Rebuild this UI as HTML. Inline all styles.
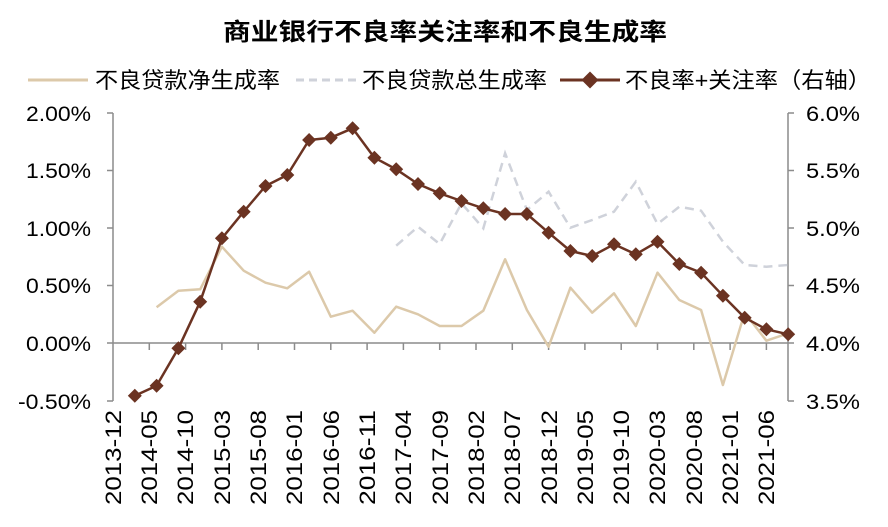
<!DOCTYPE html>
<html><head><meta charset="utf-8"><style>
html,body{margin:0;padding:0;background:#fff;}
svg text{font-family:"Liberation Sans","Noto Sans CJK SC",sans-serif;fill:#000;}
</style></head><body>
<svg width="888" height="522" viewBox="0 0 888 522" xmlns="http://www.w3.org/2000/svg">
<text x="223" y="40" font-size="24" font-weight="bold" textLength="444" lengthAdjust="spacingAndGlyphs">商业银行不良率关注率和不良生成率</text>
<line x1="28" y1="80" x2="88" y2="80" stroke="#dcc9aa" stroke-width="3"/>
<text x="95" y="88" font-size="22" textLength="185" lengthAdjust="spacingAndGlyphs">不良贷款净生成率</text>
<line x1="296" y1="80" x2="356" y2="80" stroke="#cfd2da" stroke-width="3" stroke-dasharray="8,5"/>
<text x="362" y="88" font-size="22" textLength="185" lengthAdjust="spacingAndGlyphs">不良贷款总生成率</text>
<line x1="560" y1="80" x2="620" y2="80" stroke="#6b3322" stroke-width="3"/>
<rect x="584" y="74" width="12" height="12" fill="#6b3322" transform="rotate(45 590 80)"/>
<text x="625" y="88" font-size="22" textLength="246" lengthAdjust="spacingAndGlyphs">不良率+关注率（右轴）</text>
<g stroke="#8c8c8c" stroke-width="1.5" fill="none">
<line x1="113" y1="113" x2="113" y2="401"/>
<line x1="788" y1="113" x2="788" y2="401"/>
<line x1="113" y1="343" x2="788" y2="343"/>
<path d="M107 113H113M107 170.5H113M107 228H113M107 285.5H113M107 343H113M107 401H113"/>
<path d="M788 113H794M788 170.5H794M788 228H794M788 285.5H794M788 343H794M788 401H794"/>
<path d="M149.3 343V350M185.6 343V350M221.9 343V350M258.2 343V350M294.5 343V350M330.8 343V350M367.1 343V350M403.4 343V350M439.7 343V350M476 343V350M512.3 343V350M548.6 343V350M584.9 343V350M621.2 343V350M657.5 343V350M693.8 343V350M730.1 343V350M766.4 343V350"/>
</g>
<g font-size="21">
<text x="26" y="121" textLength="65" lengthAdjust="spacingAndGlyphs">2.00%</text>
<text x="26" y="178" textLength="65" lengthAdjust="spacingAndGlyphs">1.50%</text>
<text x="26" y="236" textLength="65" lengthAdjust="spacingAndGlyphs">1.00%</text>
<text x="26" y="293" textLength="65" lengthAdjust="spacingAndGlyphs">0.50%</text>
<text x="26" y="351" textLength="65" lengthAdjust="spacingAndGlyphs">0.00%</text>
<text x="18" y="409" textLength="73" lengthAdjust="spacingAndGlyphs">-0.50%</text>
</g>
<g font-size="21">
<text x="806" y="121" textLength="54" lengthAdjust="spacingAndGlyphs">6.0%</text>
<text x="806" y="178" textLength="54" lengthAdjust="spacingAndGlyphs">5.5%</text>
<text x="806" y="236" textLength="54" lengthAdjust="spacingAndGlyphs">5.0%</text>
<text x="806" y="293" textLength="54" lengthAdjust="spacingAndGlyphs">4.5%</text>
<text x="806" y="351" textLength="54" lengthAdjust="spacingAndGlyphs">4.0%</text>
<text x="806" y="409" textLength="54" lengthAdjust="spacingAndGlyphs">3.5%</text>
</g>
<g font-size="22" text-anchor="end">
<text transform="translate(121,410) rotate(-90)" textLength="95" lengthAdjust="spacingAndGlyphs">2013-12</text>
<text transform="translate(157,410) rotate(-90)" textLength="95" lengthAdjust="spacingAndGlyphs">2014-05</text>
<text transform="translate(193,410) rotate(-90)" textLength="95" lengthAdjust="spacingAndGlyphs">2014-10</text>
<text transform="translate(230,410) rotate(-90)" textLength="95" lengthAdjust="spacingAndGlyphs">2015-03</text>
<text transform="translate(266,410) rotate(-90)" textLength="95" lengthAdjust="spacingAndGlyphs">2015-08</text>
<text transform="translate(302,410) rotate(-90)" textLength="95" lengthAdjust="spacingAndGlyphs">2016-01</text>
<text transform="translate(339,410) rotate(-90)" textLength="95" lengthAdjust="spacingAndGlyphs">2016-06</text>
<text transform="translate(375,410) rotate(-90)" textLength="95" lengthAdjust="spacingAndGlyphs">2016-11</text>
<text transform="translate(411,410) rotate(-90)" textLength="95" lengthAdjust="spacingAndGlyphs">2017-04</text>
<text transform="translate(448,410) rotate(-90)" textLength="95" lengthAdjust="spacingAndGlyphs">2017-09</text>
<text transform="translate(484,410) rotate(-90)" textLength="95" lengthAdjust="spacingAndGlyphs">2018-02</text>
<text transform="translate(520,410) rotate(-90)" textLength="95" lengthAdjust="spacingAndGlyphs">2018-07</text>
<text transform="translate(557,410) rotate(-90)" textLength="95" lengthAdjust="spacingAndGlyphs">2018-12</text>
<text transform="translate(593,410) rotate(-90)" textLength="95" lengthAdjust="spacingAndGlyphs">2019-05</text>
<text transform="translate(629,410) rotate(-90)" textLength="95" lengthAdjust="spacingAndGlyphs">2019-10</text>
<text transform="translate(665,410) rotate(-90)" textLength="95" lengthAdjust="spacingAndGlyphs">2020-03</text>
<text transform="translate(702,410) rotate(-90)" textLength="95" lengthAdjust="spacingAndGlyphs">2020-08</text>
<text transform="translate(738,410) rotate(-90)" textLength="95" lengthAdjust="spacingAndGlyphs">2021-01</text>
<text transform="translate(774,410) rotate(-90)" textLength="95" lengthAdjust="spacingAndGlyphs">2021-06</text>
</g>
<polyline fill="none" stroke="#dcc9aa" stroke-width="2.5" stroke-linejoin="round" points="156.6,307.3 178.4,290.7 200.2,289.3 221.9,246.7 243.7,270.7 265.5,282.7 287.3,288.3 309.1,271.7 330.8,316.7 352.6,310.7 374.4,332.7 396.2,306.7 418,314.3 439.7,326 461.5,326 483.3,310.7 505.1,259.3 526.9,310 548.6,346.7 570.4,287.7 592.2,312.7 614,293.3 635.8,326 657.5,272.7 679.3,300 701.1,310 722.9,385 744.7,312.7 766.4,340.7 788.2,333.3"/>
<polyline fill="none" stroke="#cfd2da" stroke-width="2.5" stroke-dasharray="9,6" points="396.2,245.7 418,226.7 439.7,244 461.5,203.3 483.3,228.3 505.1,153.3 526.9,210 548.6,191.7 570.4,227.7 592.2,220 614,211.7 635.8,181.7 657.5,224 679.3,206.7 701.1,210.7 722.9,241.7 744.7,265 766.4,266.7 788.2,265"/>
<polyline fill="none" stroke="#6b3322" stroke-width="2.5" stroke-linejoin="round" points="134.8,395.7 156.6,385.7 178.4,348.3 200.2,301.7 221.9,238.3 243.7,211.7 265.5,186 287.3,175 309.1,140 330.8,137.7 352.6,128.3 374.4,157.7 396.2,169.3 418,184 439.7,193.3 461.5,201 483.3,208.3 505.1,214 526.9,214 548.6,232.7 570.4,251 592.2,256 614,244.3 635.8,254.3 657.5,241.7 679.3,264 701.1,272.7 722.9,295.7 744.7,317.7 766.4,329.3 788.2,334.3"/>
<g fill="#6b3322">
<path d="M134.8 388.7l7 7-7 7-7-7z M156.6 378.7l7 7-7 7-7-7z M178.4 341.3l7 7-7 7-7-7z M200.2 294.7l7 7-7 7-7-7z M221.9 231.3l7 7-7 7-7-7z M243.7 204.7l7 7-7 7-7-7z M265.5 179l7 7-7 7-7-7z M287.3 168l7 7-7 7-7-7z M309.1 133l7 7-7 7-7-7z M330.8 130.7l7 7-7 7-7-7z M352.6 121.3l7 7-7 7-7-7z M374.4 150.7l7 7-7 7-7-7z M396.2 162.3l7 7-7 7-7-7z M418 177l7 7-7 7-7-7z M439.7 186.3l7 7-7 7-7-7z M461.5 194l7 7-7 7-7-7z M483.3 201.3l7 7-7 7-7-7z M505.1 207l7 7-7 7-7-7z M526.9 207l7 7-7 7-7-7z M548.6 225.7l7 7-7 7-7-7z M570.4 244l7 7-7 7-7-7z M592.2 249l7 7-7 7-7-7z M614 237.3l7 7-7 7-7-7z M635.8 247.3l7 7-7 7-7-7z M657.5 234.7l7 7-7 7-7-7z M679.3 257l7 7-7 7-7-7z M701.1 265.7l7 7-7 7-7-7z M722.9 288.7l7 7-7 7-7-7z M744.7 310.7l7 7-7 7-7-7z M766.4 322.3l7 7-7 7-7-7z M788.2 327.3l7 7-7 7-7-7z"/>
</g>
</svg>
</body></html>
